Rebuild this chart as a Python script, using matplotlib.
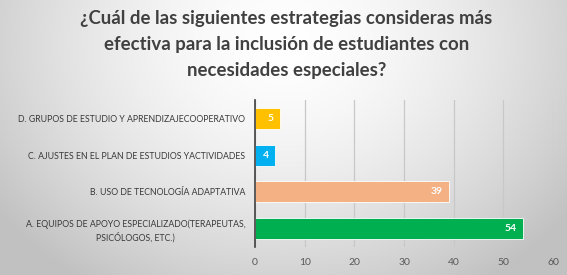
import numpy as np
import matplotlib
matplotlib.use("Agg")
import matplotlib.pyplot as plt

categories = [
    "A. EQUIPOS DE APOYO ESPECIALIZADO(TERAPEUTAS,\nPSICÓLOGOS, ETC.)",
    "B. USO DE TECNOLOGÍA ADAPTATIVA",
    "C. AJUSTES EN EL PLAN DE ESTUDIOS YACTIVIDADES",
    "D. GRUPOS DE ESTUDIO Y APRENDIZAJECOOPERATIVO",
]
values = [54, 39, 4, 5]
colors = ["#00B050", "#F4B183", "#00B0F0", "#FFC000"]
xticks = [0, 10, 20, 30, 40, 50, 60]
title = "¿Cuál de las siguientes estrategias consideras más\nefectiva para la inclusión de estudiantes con\nnecesidades especiales?"

plt.rcParams['font.family'] = ['Lato', 'DejaVu Sans']

W, H = 567, 275
fig = plt.figure(figsize=(W / 100, H / 100), dpi=100)

# radial gradient background
bg = fig.add_axes([0, 0, 1, 1], zorder=-10)
yy, xx = np.mgrid[0:H, 0:W]
cx, cy = W * 0.5, H * 0.15
r = np.sqrt(((xx - cx) / (W * 0.62)) ** 2 + ((yy - cy) / (H * 1.05)) ** 2)
r = np.clip(r, 0, 1)
val = 1.0 - 0.24 * r ** 1.6
img = np.dstack([val, val, val])
bg.imshow(img, aspect='auto', extent=[0, 1, 0, 1], origin='upper')
bg.axis('off')

fig.text(0.505, 0.965, title, ha='center', va='top', fontsize=13.4,
         fontweight='bold', color='#404040', linespacing=1.66)

ax = fig.add_axes([255 / W, 1 - 247 / H, (553 - 255) / W, (247 - 100) / H])
ax.set_facecolor('none')
y = np.arange(len(categories))
bars = ax.barh(y, values, height=0.57, color=colors, edgecolor='white',
               linewidth=0.6, zorder=3)
for yi, v in zip(y, values):
    ax.annotate(str(v), xy=(v, yi), xytext=(-4.5, 0), textcoords='offset points',
                ha='right', va='center', color='white', fontweight='bold',
                fontsize=7.5, zorder=4)

ax.set_xlim(0, 60)
ax.set_ylim(-0.5, 3.5)
ax.set_xticks(xticks)
ax.set_xticklabels([str(t) for t in xticks])
ax.set_yticks(y)
ax.set_yticklabels(categories, multialignment='center', linespacing=1.35)
ax.tick_params(axis='y', length=0, pad=7, labelsize=6.35, labelcolor='#3a3a3a')
ax.tick_params(axis='x', length=0, pad=8, labelsize=7.5, labelcolor='#595959')
ax.grid(axis='x', color='#c8c8c8', linewidth=0.9, zorder=0)
for s in ['top', 'right', 'bottom']:
    ax.spines[s].set_visible(False)
ax.spines['left'].set_color('#404040')
ax.spines['left'].set_linewidth(1.2)
ax.spines['left'].set_zorder(5)

fig.savefig("out.png", dpi=100)
